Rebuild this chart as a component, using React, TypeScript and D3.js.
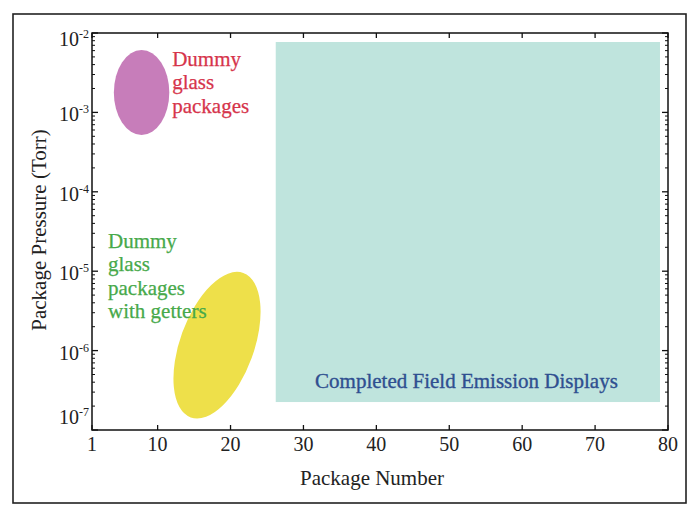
import React from 'react';
import * as d3 from 'd3';

// ---- data ----
const X_DOMAIN = [1, 80];
const Y_DOMAIN = [1e-7, 1e-2];
const X_TICKS = [1, 10, 20, 30, 40, 50, 60, 70, 80];
const Y_EXPONENTS = [-2, -3, -4, -5, -6, -7];

// Completed FED region: [xMin, xMax, yMin, yMax]
const FED_REGION = [26.2, 78.9, 2.25e-7, 7.7e-3];
// Dummy glass packages ellipse: [xMin, xMax, yMin, yMax]
const GLASS_REGION = [4.0, 11.6, 5.2e-4, 6.1e-3];
// Dummy glass packages with getters: major-axis endpoints [x, y] and half-width (package units)
const GETTER_AXIS_TOP = [21.75, 9.5e-6];
const GETTER_AXIS_BOTTOM = [14.54, 1.44e-7];
const GETTER_HALF_WIDTH = 5.07;

const GLASS_LABEL = ['Dummy', 'glass', 'packages'];
const GETTER_LABEL = ['Dummy', 'glass', 'packages', 'with getters'];
const FED_LABEL = 'Completed Field Emission Displays';
// label anchors [x, y] in data units
const GLASS_LABEL_AT = [12.0, 3.84e-3];
const GETTER_LABEL_AT = [3.2, 1.96e-5];
const FED_LABEL_AT = [31.6, 3.38e-7];

const X_TITLE = 'Package Number';
const Y_TITLE = 'Package Pressure (Torr)';

const FONT = "'Liberation Serif', 'Times New Roman', Times, serif";
const TS = { fontFamily: FONT };

export default function App() {
  const W = 693, H = 510;
  const m = { l: 92, r: 668, t: 33, b: 430 };
  const x = d3.scaleLinear().domain(X_DOMAIN).range([m.l, m.r]);
  const y = d3.scaleLog().domain(Y_DOMAIN).range([m.b, m.t]);

  const minor: number[] = [];
  for (let e = -7; e < -2; e++) {
    for (let k = 2; k <= 9; k++) minor.push(k * Math.pow(10, e));
  }

  // getter ellipse geometry
  const t = [x(GETTER_AXIS_TOP[0]), y(GETTER_AXIS_TOP[1])];
  const bt = [x(GETTER_AXIS_BOTTOM[0]), y(GETTER_AXIS_BOTTOM[1])];
  const gcx = (t[0] + bt[0]) / 2, gcy = (t[1] + bt[1]) / 2;
  const gdx = t[0] - gcx, gdy = t[1] - gcy;
  const ga = Math.sqrt(gdx * gdx + gdy * gdy);
  const gb = x(1 + GETTER_HALF_WIDTH) - x(1);
  const gang = (Math.atan2(gdx, -gdy) * 180) / Math.PI;

  const lineH = 23.3;

  return (
    <div style={{ position: 'absolute', left: 0, top: 0 }}>
      <svg width={W} height={H} style={{ display: 'block', background: '#fff', fontFamily: FONT }}>
        {/* outer frame */}
        <rect x={13} y={14} width={673} height={489} fill="none" stroke="#222" strokeWidth={1.6} />

        {/* FED region */}
        <rect
          x={x(FED_REGION[0])}
          y={y(FED_REGION[3])}
          width={x(FED_REGION[1]) - x(FED_REGION[0])}
          height={y(FED_REGION[2]) - y(FED_REGION[3])}
          fill="#bfe4dd"
        />
        {/* glass ellipse */}
        <ellipse
          cx={(x(GLASS_REGION[0]) + x(GLASS_REGION[1])) / 2}
          cy={(y(GLASS_REGION[2]) + y(GLASS_REGION[3])) / 2}
          rx={(x(GLASS_REGION[1]) - x(GLASS_REGION[0])) / 2}
          ry={(y(GLASS_REGION[2]) - y(GLASS_REGION[3])) / 2}
          fill="#c77dba"
        />
        {/* getter ellipse */}
        <ellipse
          cx={0}
          cy={0}
          rx={gb}
          ry={ga}
          transform={`translate(${gcx},${gcy}) rotate(${gang})`}
          fill="#eee04a"
        />

        {/* labels */}
        <text style={TS} x={x(GLASS_LABEL_AT[0])} y={y(GLASS_LABEL_AT[1])} fontSize={21} fill="#d6344b" stroke="#d6344b" strokeWidth={0.25}>
          {GLASS_LABEL.map((s, i) => (
            <tspan key={i} x={x(GLASS_LABEL_AT[0])} dy={i === 0 ? 0 : lineH}>{s}</tspan>
          ))}
        </text>
        <text style={TS} x={x(GETTER_LABEL_AT[0])} y={y(GETTER_LABEL_AT[1])} fontSize={21} fill="#47a94a" stroke="#47a94a" strokeWidth={0.25}>
          {GETTER_LABEL.map((s, i) => (
            <tspan key={i} x={x(GETTER_LABEL_AT[0])} dy={i === 0 ? 0 : lineH}>{s}</tspan>
          ))}
        </text>
        <text style={TS} x={x(FED_LABEL_AT[0])} y={y(FED_LABEL_AT[1])} fontSize={21} fill="#2f4f90" stroke="#2f4f90" strokeWidth={0.35}>
          {FED_LABEL}
        </text>

        {/* axes frame */}
        <rect x={m.l} y={m.t} width={m.r - m.l} height={m.b - m.t} fill="none" stroke="#111" strokeWidth={1.5} />

        {/* x ticks bottom & top */}
        {X_TICKS.map((v) => (
          <g key={'x' + v}>
            <line x1={x(v)} x2={x(v)} y1={m.b} y2={m.b - 5} stroke="#111" strokeWidth={1.3} />
            <line x1={x(v)} x2={x(v)} y1={m.t} y2={m.t + 5} stroke="#111" strokeWidth={1.3} />
            <text style={TS} x={x(v)} y={m.b + 21} fontSize={20} textAnchor="middle" fill="#222">{v}</text>
          </g>
        ))}

        {/* y major ticks */}
        {Y_EXPONENTS.map((e) => {
          const v = Math.pow(10, e);
          const off = e === -2 ? 13 : e === -7 ? -6 : 9;
          return (
            <g key={'y' + e}>
              <line x1={m.l} x2={m.l + 6} y1={y(v)} y2={y(v)} stroke="#111" strokeWidth={1.3} />
              <line x1={m.r} x2={m.r - 6} y1={y(v)} y2={y(v)} stroke="#111" strokeWidth={1.3} />
              <text style={TS} x={m.l - 3} y={y(v) + off} fontSize={20} textAnchor="end" fill="#222">
                10<tspan dy={-8} fontSize={12}>{'-' + Math.abs(e)}</tspan>
              </text>
            </g>
          );
        })}
        {/* y minor ticks */}
        {minor.map((v, i) => (
          <g key={'m' + i}>
            <line x1={m.l} x2={m.l + 3} y1={y(v)} y2={y(v)} stroke="#111" strokeWidth={1} />
            <line x1={m.r} x2={m.r - 3} y1={y(v)} y2={y(v)} stroke="#111" strokeWidth={1} />
          </g>
        ))}

        {/* axis titles */}
        <text style={TS} x={(m.l + m.r) / 2 - 8} y={485} fontSize={21} textAnchor="middle" fill="#222">{X_TITLE}</text>
        <text style={TS} transform={`translate(46,230) rotate(-90)`} fontSize={21} textAnchor="middle" fill="#222">{Y_TITLE}</text>
      </svg>
    </div>
  );
}
